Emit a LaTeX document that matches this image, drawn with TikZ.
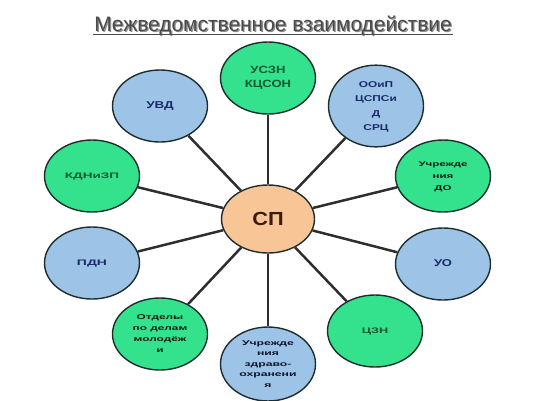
\documentclass[tikz,border=0pt]{standalone}
\usepackage{fontspec}
\usepackage{graphicx}
\setmainfont{Liberation Sans}
\usetikzlibrary{shapes.geometric}
\definecolor{gfill}{HTML}{34E28E}
\definecolor{bfill}{HTML}{9DC3E6}
\definecolor{pfill}{HTML}{F8C596}
\definecolor{edge}{HTML}{1E2E2E}
\definecolor{gtext}{HTML}{0C5A2E}
\definecolor{btext}{HTML}{1A2A6A}
\definecolor{ctext}{HTML}{3B1C0C}
\definecolor{ttext}{HTML}{4A4A4A}
\newcommand{\wl}[2]{\scalebox{#1}[1]{\begin{tabular}{@{}c@{}}#2\end{tabular}}}
\tikzset{
  oval/.style={ellipse, draw=edge, line width=1.4bp, minimum width=95bp, minimum height=72bp, inner sep=0pt, align=center, font=\bfseries},
  gnode/.style={oval, fill=gfill, text=gtext},
  bnode/.style={oval, fill=bfill, text=btext},
  spoke/.style={draw=black!82, line width=2.5bp},
}
\begin{document}
\begin{tikzpicture}[x=1bp,y=-1bp]
\useasboundingbox (0,0) rectangle (536,400);
% title
\node[text=black!45, font=\fontsize{21}{24}\selectfont, anchor=base] (tshadow) at (274.3,32.3) {Межведомственное взаимодействие};
\node[text=ttext, font=\fontsize{21}{24}\selectfont, anchor=base] (title) at (273,31) {Межведомственное взаимодействие};
\draw[ttext, line width=1.3bp] ([shift={(2,3.5)}]title.base west) -- ([shift={(-2,3.5)}]title.base east);
% centre
\node[oval, fill=pfill, text=ctext, minimum width=93bp, minimum height=68bp, font=\bfseries\fontsize{19}{22}\selectfont] (sp) at (268,219) {\scalebox{1.15}[1]{СП}};
% satellites
\node[gnode, font=\bfseries\fontsize{10.5}{14}\selectfont] (uszn) at (268,78) {\wl{1.25}{УСЗН\\КЦСОН}};
\node[bnode, font=\bfseries\fontsize{8.5}{14.5}\selectfont] (ooip) at (376,106) {\wl{1.4}{ООиП\\ЦСПСи\\Д\\СРЦ}};
\node[gnode, text=black!70!gtext, font=\bfseries\fontsize{7}{12}\selectfont] (udo) at (443,176) {\wl{1.65}{Учрежде\\ния\\ДО}};
\node[bnode, font=\bfseries\fontsize{10}{12}\selectfont] (uo) at (443,264) {\wl{1.3}{УО}};
\node[gnode, font=\bfseries\fontsize{8}{10}\selectfont] (czn) at (375,331) {\wl{1.6}{ЦЗН}};
\node[bnode, text=black!60!btext, font=\bfseries\fontsize{7}{10.5}\selectfont, minimum height=69bp] (uzd) at (268,364) {\wl{1.75}{Учрежде\\ния\\здраво-\\охранени\\я}};
\node[gnode, text=black!70!gtext, font=\bfseries\fontsize{7}{11}\selectfont] (otd) at (160,334) {\wl{1.7}{Отделы\\по делам\\молодёж\\и}};
\node[bnode, font=\bfseries\fontsize{8}{10}\selectfont] (pdn) at (92,263) {\wl{1.75}{ПДН}};
\node[gnode, font=\bfseries\fontsize{8}{10}\selectfont] (kdn) at (92,176) {\wl{1.7}{КДНиЗП}};
\node[bnode, font=\bfseries\fontsize{10}{12}\selectfont] (uvd) at (160,106) {\wl{1.35}{УВД}};
% spokes
\foreach \n in {uszn,ooip,udo,uo,czn,uzd,otd,pdn,kdn,uvd}
  \draw[spoke] (sp) -- (\n);
\end{tikzpicture}
\end{document}
